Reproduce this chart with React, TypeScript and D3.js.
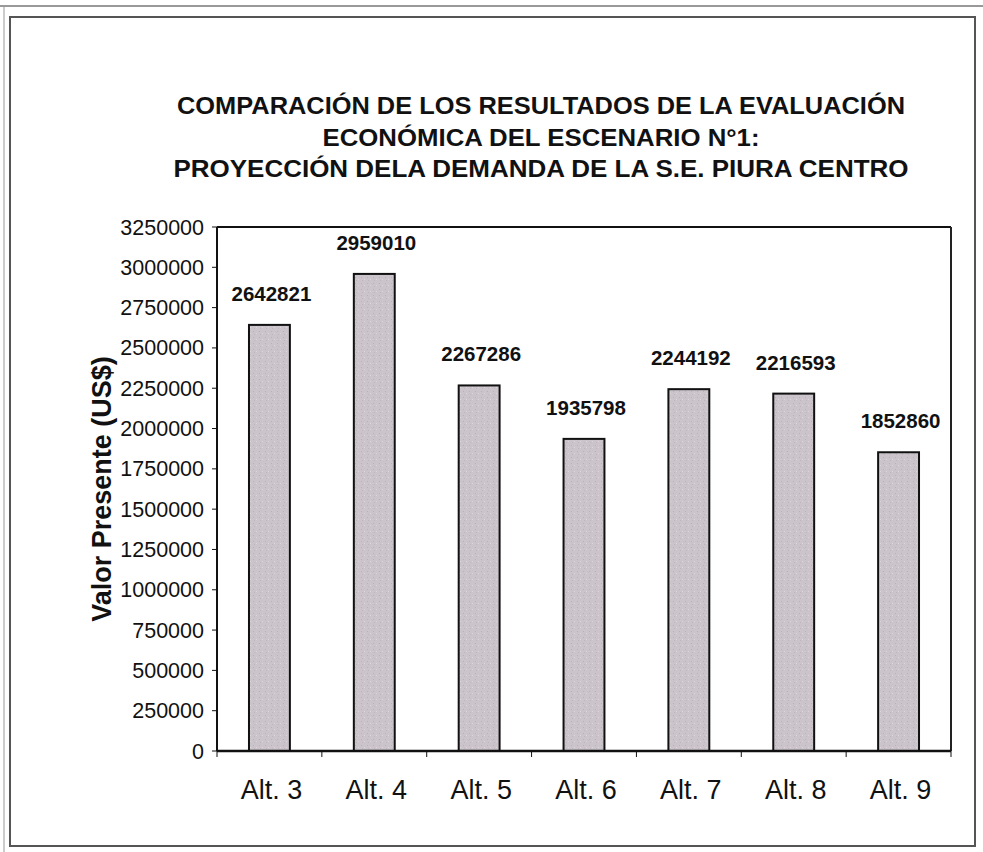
import React from "react";
import * as d3 from "d3";

const categories = ["Alt. 3", "Alt. 4", "Alt. 5", "Alt. 6", "Alt. 7", "Alt. 8", "Alt. 9"];
const values = [2642821, 2959010, 2267286, 1935798, 2244192, 2216593, 1852860];
const yTicks = [0, 250000, 500000, 750000, 1000000, 1250000, 1500000, 1750000, 2000000, 2250000, 2500000, 2750000, 3000000, 3250000];
const titleLines = [
  "COMPARACIÓN DE LOS RESULTADOS DE LA EVALUACIÓN",
  "ECONÓMICA DEL ESCENARIO N°1:",
  "PROYECCIÓN DELA DEMANDA DE LA S.E. PIURA CENTRO",
];
const yTitle = "Valor Presente (US$)";

export default function App() {
  const W = 983, H = 852;
  const left = 217, right = 951, top = 227, bottom = 751;
  const x = d3.scaleBand<string>().domain(categories).range([left, right]).paddingInner(0).paddingOuter(0);
  const y = d3.scaleLinear().domain([0, 3250000]).range([bottom, top]);
  const bw = x.bandwidth() * 0.39;
  const font = "Arial, 'Liberation Sans', sans-serif";

  return (
    <svg width={W} height={H} style={{ position: "absolute", left: 0, top: 0, background: "#fff" }}>
      <defs>
        <pattern id="tex" width="6" height="6" patternUnits="userSpaceOnUse">
          <rect width="6" height="6" fill="#cbc5cb" />
          <rect x="1" y="1" width="1" height="1" fill="#b8b1b8" />
          <rect x="4" y="3" width="1" height="1" fill="#ddd7dd" />
          <rect x="2" y="4" width="1" height="1" fill="#bdb6bd" />
        </pattern>
      </defs>
      <rect x={0} y={0} width={W} height={H} fill="#fff" />
      <line x1={0} y1={6} x2={W} y2={6} stroke="#777" strokeWidth={1.5} />
      <line x1={4} y1={6} x2={4} y2={H} stroke="#999" strokeWidth={1} />
      <rect x={10} y={17} width={965} height={829} fill="none" stroke="#555" strokeWidth={2} />

      {titleLines.map((t, i) => (
        <text key={i} x={541} y={114 + i * 31.5} textAnchor="middle" fontFamily={font} fontWeight="bold" fontSize={24.5} fill="#111" textLength={i === 0 ? 728 : i === 1 ? 437 : 735} lengthAdjust="spacingAndGlyphs">
          {t}
        </text>
      ))}

      {/* plot frame */}
      <line x1={left} y1={top} x2={right} y2={top} stroke="#111" strokeWidth={2} />
      <line x1={right} y1={top} x2={right} y2={bottom} stroke="#222" strokeWidth={2} />
      <line x1={left} y1={top} x2={left} y2={bottom} stroke="#111" strokeWidth={2} />

      {yTicks.map((t) => (
        <g key={t}>
          <line x1={left - 5} y1={y(t)} x2={left} y2={y(t)} stroke="#111" strokeWidth={1} />
          <text x={left - 13} y={y(t) + 7.5} textAnchor="end" fontFamily={font} fontSize={21.5} fill="#111">
            {t}
          </text>
        </g>
      ))}

      <text transform={`translate(111,${(top + bottom) / 2}) rotate(-90)`} textAnchor="middle" fontFamily={font} fontWeight="bold" fontSize={27} fill="#111">
        {yTitle}
      </text>

      {categories.map((c, i) => {
        const cx = (x(c) as number) + x.bandwidth() / 2;
        const v = values[i];
        return (
          <g key={c}>
            <rect x={cx - bw / 2} y={y(v)} width={bw} height={bottom - y(v)} fill="url(#tex)" stroke="#111" strokeWidth={2} />
            <text x={cx + 2} y={y(v) - 24} textAnchor="middle" fontFamily={font} fontWeight="bold" fontSize={20.5} fill="#111">
              {v}
            </text>
            <text x={cx + 2} y={799} textAnchor="middle" fontFamily={font} fontSize={27} fill="#111">
              {c}
            </text>
          </g>
        );
      })}

      <line x1={left} y1={bottom} x2={right} y2={bottom} stroke="#111" strokeWidth={2.5} />
      {[...categories, "end"].map((c, i) => {
        const xx = left + i * x.bandwidth();
        return <line key={i} x1={xx} y1={bottom} x2={xx} y2={bottom + 6} stroke="#111" strokeWidth={1} />;
      })}
    </svg>
  );
}
